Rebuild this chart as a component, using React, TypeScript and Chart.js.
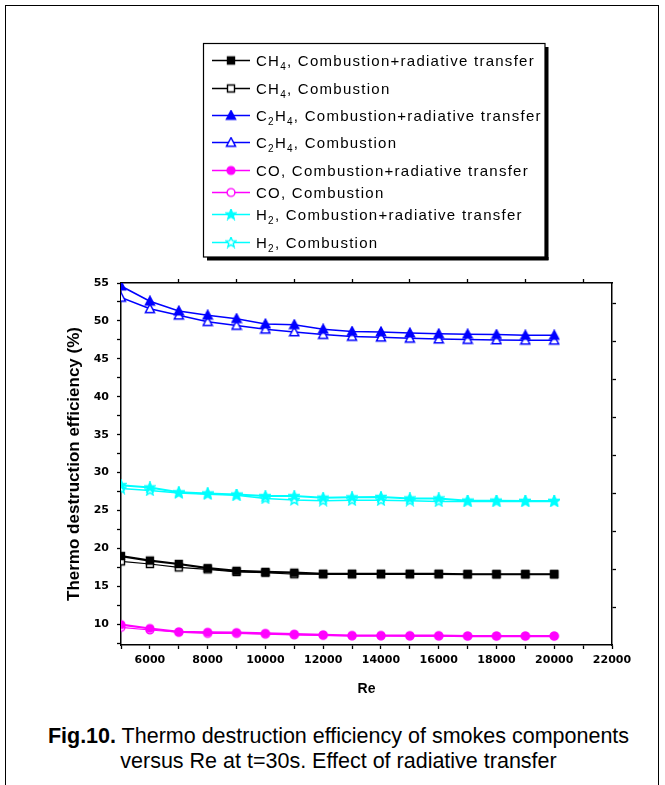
import React, { useEffect, useRef } from 'react';
import { Chart, registerables } from 'chart.js';

Chart.register(...registerables);

// ---------- data ----------
const reynolds = [5000, 6000, 7000, 8000, 9000, 10000, 11000, 12000, 13000, 14000, 15000, 16000, 17000, 18000, 19000, 20000];

const ch4Rad = [19.0, 18.4, 17.95, 17.4, 17.05, 16.9, 16.8, 16.65, 16.65, 16.65, 16.65, 16.65, 16.6, 16.6, 16.6, 16.6];
const ch4Comb = [18.3, 17.95, 17.5, 17.25, 16.9, 16.8, 16.6, 16.6, 16.6, 16.6, 16.6, 16.6, 16.6, 16.6, 16.6, 16.6];
const c2h4Rad = [54.6, 52.6, 51.3, 50.75, 50.3, 49.6, 49.5, 48.9, 48.6, 48.55, 48.4, 48.3, 48.25, 48.2, 48.1, 48.1];
const c2h4Comb = [53.1, 51.6, 50.75, 49.9, 49.4, 48.9, 48.55, 48.2, 47.95, 47.85, 47.7, 47.6, 47.55, 47.5, 47.45, 47.45];
const coRad = [9.95, 9.45, 9.0, 8.95, 8.9, 8.8, 8.7, 8.6, 8.5, 8.5, 8.5, 8.5, 8.45, 8.45, 8.45, 8.45];
const coComb = [9.6, 9.25, 8.95, 8.8, 8.8, 8.7, 8.6, 8.55, 8.5, 8.5, 8.45, 8.45, 8.45, 8.45, 8.45, 8.45];
const h2Rad = [28.35, 28.05, 27.4, 27.25, 27.1, 26.9, 26.9, 26.7, 26.75, 26.8, 26.6, 26.6, 26.3, 26.3, 26.25, 26.25];
const h2Comb = [27.9, 27.65, 27.3, 27.15, 27.0, 26.6, 26.4, 26.3, 26.35, 26.35, 26.3, 26.2, 26.2, 26.2, 26.2, 26.2];

const xTickValues = [5000, 6000, 7000, 8000, 9000, 10000, 11000, 12000, 13000, 14000, 15000, 16000, 17000, 18000, 19000, 20000, 21000, 22000];
const xLabelValues = [6000, 8000, 10000, 12000, 14000, 16000, 18000, 20000, 22000];
const xTopTickValues = [7000, 9000, 11000, 13000, 15000, 17000, 19000, 21000];
const yTickValues = [7.5, 10, 12.5, 15, 17.5, 20, 22.5, 25, 27.5, 30, 32.5, 35, 37.5, 40, 42.5, 45, 47.5, 50, 52.5, 55];
const yLabelValues = [10, 15, 20, 25, 30, 35, 40, 45, 50, 55];
const yRightTickValues = [12.27, 17.27, 22.27, 27.27, 32.27, 37.27, 42.27, 47.27, 52.27];

const X_MIN = 5000;
const X_MAX = 22000;
const Y_MIN = 7.27;
const Y_MAX = 55;

const yTitle = 'Thermo destruction efficiency (%)';
const xTitle = 'Re';

// legend text: segments of [text, isSubscript]
const legendTexts: [string, boolean][][] = [
  [['CH', false], ['4', true], [', Combustion+radiative transfer', false]],
  [['CH', false], ['4', true], [', Combustion', false]],
  [['C', false], ['2', true], ['H', false], ['4', true], [', Combustion+radiative transfer', false]],
  [['C', false], ['2', true], ['H', false], ['4', true], [', Combustion', false]],
  [['CO, Combustion+radiative transfer', false]],
  [['CO, Combustion', false]],
  [['H', false], ['2', true], [', Combustion+radiative transfer', false]],
  [['H', false], ['2', true], [', Combustion', false]],
];

// ---------- layout constants ----------
const CANVAS_W = 665;
const CANVAS_H = 710;
const PLOT_LEFT = 121;
const PLOT_RIGHT = 612;
const PLOT_TOP = 283;
const PLOT_BOTTOM = 645;

const seriesStyles = [
  { data: ch4Rad, color: '#000000', shape: 'square', filled: true, width: 2.2 },
  { data: ch4Comb, color: '#000000', shape: 'square', filled: false, width: 1.2 },
  { data: c2h4Rad, color: '#0000ff', shape: 'triangle', filled: true, width: 1.5 },
  { data: c2h4Comb, color: '#0000ff', shape: 'triangle', filled: false, width: 1.5 },
  { data: coRad, color: '#ff00ff', shape: 'circle', filled: true, width: 2.2 },
  { data: coComb, color: '#ff00ff', shape: 'circle', filled: false, width: 1.2 },
  { data: h2Rad, color: '#00ffff', shape: 'star', filled: true, width: 2 },
  { data: h2Comb, color: '#00ffff', shape: 'star', filled: false, width: 1.5 },
];

const legendRowY = [60, 88, 115, 142, 170, 192, 214, 242];

function makeMarker(shape: string, color: string, filled: boolean): HTMLCanvasElement {
  const size = 12;
  const c = document.createElement('canvas');
  c.width = size;
  c.height = size;
  const g = c.getContext('2d') as CanvasRenderingContext2D;
  const m = size / 2;
  g.lineWidth = 1.4;
  g.strokeStyle = color;
  g.fillStyle = filled ? color : '#ffffff';
  g.beginPath();
  if (shape === 'square') {
    g.rect(m - 3.5, m - 3.5, 7, 7);
  } else if (shape === 'triangle') {
    g.moveTo(m, m - 4.8);
    g.lineTo(m + 4.6, m + 3.8);
    g.lineTo(m - 4.6, m + 3.8);
    g.closePath();
  } else if (shape === 'circle') {
    g.arc(m, m, 3.9, 0, Math.PI * 2);
  } else {
    for (let i = 0; i < 10; i++) {
      const r = i % 2 === 0 ? 5.4 : 2.3;
      const a = -Math.PI / 2 + (i * Math.PI) / 5;
      const px = m + r * Math.cos(a);
      const py = m + r * Math.sin(a);
      if (i === 0) g.moveTo(px, py);
      else g.lineTo(px, py);
    }
    g.closePath();
  }
  g.fill();
  g.stroke();
  return c;
}

export default function App() {
  const canvasRef = useRef<HTMLCanvasElement | null>(null);

  useEffect(() => {
    const canvas = canvasRef.current;
    if (!canvas) return;
    const markers = seriesStyles.map((s) => makeMarker(s.shape, s.color, s.filled));

    const tickFont = { family: '"DejaVu Sans"', weight: 'bold' as const, size: 11 };

    const legendPlugin = {
      id: 'boxLegend',
      afterDraw(chart: any) {
        const ctx: CanvasRenderingContext2D = chart.ctx;
        ctx.save();
        // shadow
        ctx.fillStyle = '#000';
        ctx.fillRect(545, 47, 3.5, 213);
        ctx.fillRect(207, 257, 341.5, 3.5);
        // box
        ctx.fillStyle = '#fff';
        ctx.fillRect(203.5, 43.5, 341.5, 213.5);
        ctx.strokeStyle = '#000';
        ctx.lineWidth = 1.2;
        ctx.strokeRect(203.5, 43.5, 341.5, 213.5);

        const mainFont = '15px "Liberation Sans"';
        const subFont = '10px "Liberation Sans"';
        // letter spacing chosen so the first entry spans the original width
        const anyCtx = ctx as any;
        anyCtx.letterSpacing = '0px';
        let w = 0;
        let n = 0;
        for (const [t, sub] of legendTexts[0]) {
          ctx.font = sub ? subFont : mainFont;
          w += ctx.measureText(t).width;
          n += t.length;
        }
        const spacing = Math.max(0, (279 - w) / n);
        anyCtx.letterSpacing = spacing.toFixed(2) + 'px';

        legendTexts.forEach((segs, i) => {
          const y = legendRowY[i];
          const st = seriesStyles[i];
          ctx.strokeStyle = st.color;
          ctx.lineWidth = 1.5;
          ctx.beginPath();
          ctx.moveTo(212, y + 0.5);
          ctx.lineTo(250, y + 0.5);
          ctx.stroke();
          ctx.drawImage(markers[i], 231 - 6, y - 6 + 0.5);
          let x = 256;
          ctx.fillStyle = '#000';
          ctx.textBaseline = 'alphabetic';
          ctx.textAlign = 'left';
          for (const [t, sub] of segs) {
            ctx.font = sub ? subFont : mainFont;
            const ty = sub ? y + 9.5 : y + 5.5;
            ctx.fillText(t, x, ty);
            x += ctx.measureText(t).width;
          }
        });
        anyCtx.letterSpacing = '0px';
        ctx.restore();
      },
    };

    const chart = new Chart(canvas, {
      type: 'line',
      data: {
        datasets: seriesStyles.map((s, i) => ({
          label: legendTexts[i].map((seg) => seg[0]).join(''),
          data: reynolds.map((r, k) => ({ x: r, y: s.data[k] })),
          borderColor: s.color,
          backgroundColor: s.color,
          borderWidth: s.width,
          pointStyle: markers[i] as any,
          pointRadius: 5,
          pointHoverRadius: 5,
          tension: 0,
          fill: false,
        })),
      },
      options: {
        animation: false,
        responsive: false,
        devicePixelRatio: 1,
        events: [],
        layout: { padding: 0 },
        plugins: {
          legend: { display: false },
          tooltip: { enabled: false },
        },
        scales: {
          x: {
            type: 'linear',
            position: 'bottom',
            min: X_MIN,
            max: X_MAX,
            afterBuildTicks: (s: any) => {
              s.ticks = xTickValues.map((v) => ({ value: v }));
            },
            afterFit: (s: any) => {
              s.height = CANVAS_H - PLOT_BOTTOM;
            },
            ticks: {
              autoSkip: false,
              maxRotation: 0,
              padding: 5,
              color: '#000',
              font: tickFont,
              callback: (v: any) => (xLabelValues.includes(Number(v)) ? String(v) : ''),
            },
            grid: { drawOnChartArea: false, tickLength: 4, color: '#000', tickWidth: 1.3 },
            border: { color: '#000', width: 1.5 },
            title: {
              display: true,
              text: xTitle,
              color: '#000',
              font: { family: '"Liberation Sans"', weight: 'bold', size: 14 },
              padding: { top: 0, bottom: 12 },
            },
          },
          x2: {
            type: 'linear',
            position: 'top',
            min: X_MIN,
            max: X_MAX,
            afterBuildTicks: (s: any) => {
              s.ticks = xTopTickValues.map((v) => ({ value: v }));
            },
            afterFit: (s: any) => {
              s.height = PLOT_TOP;
            },
            ticks: { display: false },
            grid: { drawOnChartArea: false, tickLength: 4, color: '#000', tickWidth: 1.3 },
            border: { color: '#000', width: 1.5 },
          },
          y: {
            type: 'linear',
            position: 'left',
            min: Y_MIN,
            max: Y_MAX,
            afterBuildTicks: (s: any) => {
              s.ticks = yTickValues.map((v) => ({ value: v }));
            },
            afterFit: (s: any) => {
              s.width = PLOT_LEFT;
            },
            ticks: {
              autoSkip: false,
              padding: 8,
              color: '#000',
              font: tickFont,
              callback: (v: any) => (yLabelValues.includes(Number(v)) ? String(v) : ''),
            },
            grid: { drawOnChartArea: false, tickLength: 4, color: '#000', tickWidth: 1.3 },
            border: { color: '#000', width: 1.5 },
            title: {
              display: true,
              text: yTitle,
              color: '#000',
              font: { family: '"Liberation Sans"', weight: 'bold', size: 17 },
              padding: { top: 64, bottom: 0 },
            },
          },
          y2: {
            type: 'linear',
            position: 'right',
            min: Y_MIN,
            max: Y_MAX,
            afterBuildTicks: (s: any) => {
              s.ticks = yRightTickValues.map((v) => ({ value: v }));
            },
            afterFit: (s: any) => {
              s.width = CANVAS_W - PLOT_RIGHT;
            },
            ticks: { display: false },
            grid: { drawOnChartArea: false, tickLength: 4, color: '#000', tickWidth: 1.3 },
            border: { color: '#000', width: 1.5 },
          },
        },
      } as any,
      plugins: [legendPlugin],
    });

    return () => {
      chart.destroy();
    };
  }, []);

  return (
    <div style={{ position: 'absolute', left: 0, top: 0, width: CANVAS_W, height: 785, background: '#fff', overflow: 'hidden' }}>
      <div
        style={{
          position: 'absolute',
          left: 5,
          top: 5,
          width: 654,
          height: 820,
          border: '1px solid #000',
          boxSizing: 'border-box',
        }}
      />
      <canvas
        ref={canvasRef}
        width={CANVAS_W}
        height={CANVAS_H}
        style={{ position: 'absolute', left: 0, top: 0, width: CANVAS_W, height: CANVAS_H }}
      />
      <div
        style={{
          position: 'absolute',
          left: 6,
          top: 724,
          width: CANVAS_W,
          textAlign: 'center',
          fontFamily: '"Liberation Sans", Arial, sans-serif',
          fontSize: 21.5,
          lineHeight: '25px',
          color: '#000',
        }}
      >
        <b>Fig.10.</b> Thermo destruction efficiency of smokes components
        <br />
        versus Re at t=30s. Effect of radiative transfer
      </div>
    </div>
  );
}
